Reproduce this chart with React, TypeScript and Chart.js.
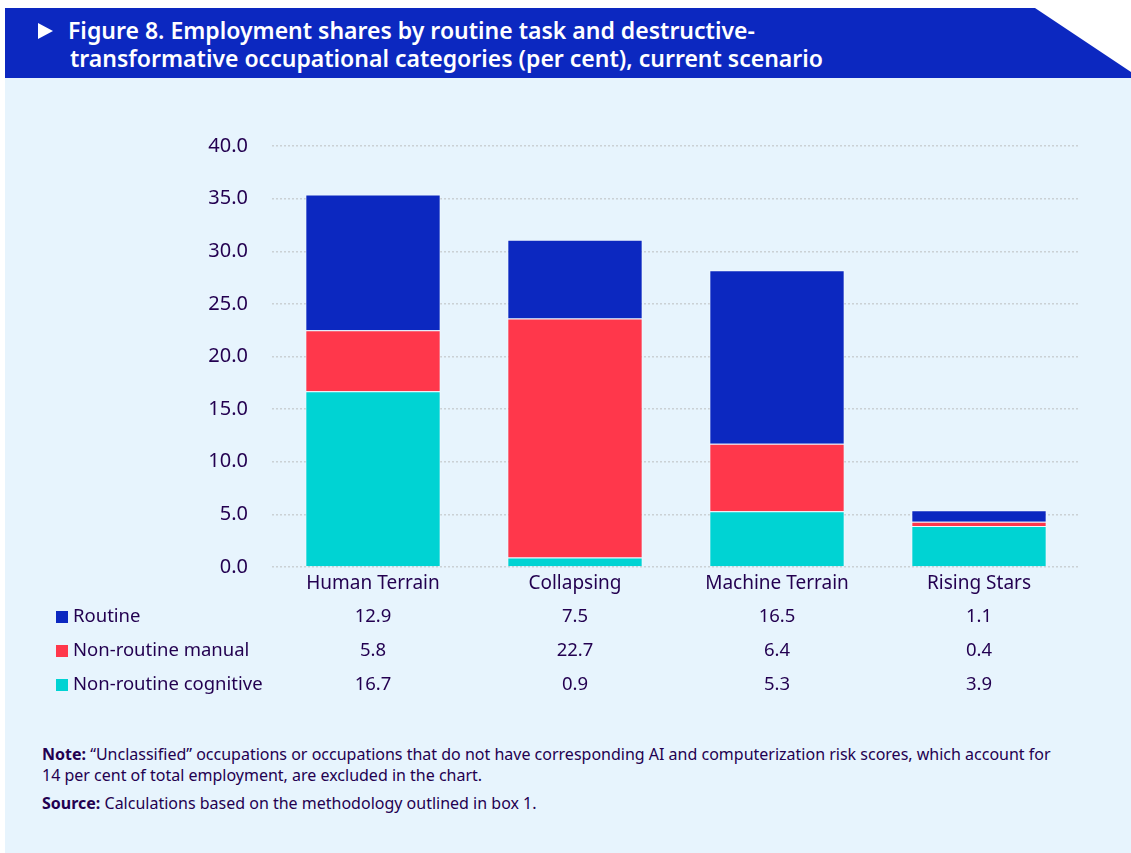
import React, { useEffect, useRef } from "react";
import { Chart, registerables } from "chart.js";

Chart.register(...registerables);

const categories = ["Human Terrain", "Collapsing", "Machine Terrain", "Rising Stars"];
const routine = [12.9, 7.5, 16.5, 1.1];
const nonRoutineManual = [5.8, 22.7, 6.4, 0.4];
const nonRoutineCognitive = [16.7, 0.9, 5.3, 3.9];
const seriesLabels = ["Routine", "Non-routine manual", "Non-routine cognitive"];
const yMin = 0;
const yMax = 40;
const yStep = 5;

const COL_ROUTINE = "#0c28c0";
const COL_MANUAL = "#ff374b";
const COL_COGNITIVE = "#00d3d3";
const TEXT = "#230050";
const FONT = "'Noto Sans', sans-serif";

const tablePlugin = {
  id: "dataTable",
  afterDraw(chart: any) {
    const ctx = chart.ctx;
    const x = chart.scales.x;
    const rows = [
      { label: seriesLabels[0], color: COL_ROUTINE, values: routine },
      { label: seriesLabels[1], color: COL_MANUAL, values: nonRoutineManual },
      { label: seriesLabels[2], color: COL_COGNITIVE, values: nonRoutineCognitive },
    ];
    const rowY = [617, 651, 685];
    ctx.save();
    ctx.font = `18.5px ${FONT}`;
    ctx.textBaseline = "middle";
    rows.forEach((r, i) => {
      const y = rowY[i];
      ctx.fillStyle = r.color;
      ctx.fillRect(56, y - 6, 12, 12);
      ctx.fillStyle = TEXT;
      ctx.textAlign = "left";
      ctx.fillText(r.label, 73, y);
      ctx.textAlign = "center";
      r.values.forEach((v, j) => {
        ctx.fillText(v.toFixed(1), x.getPixelForValue(j), y);
      });
    });
    ctx.restore();
  },
};

function BarChart() {
  const ref = useRef<HTMLCanvasElement | null>(null);
  useEffect(() => {
    if (!ref.current) return;
    const H = 720;
    const chart = new Chart(ref.current, {
      type: "bar",
      data: {
        labels: categories,
        datasets: [
          {
            label: seriesLabels[2],
            data: nonRoutineCognitive,
            backgroundColor: COL_COGNITIVE,
            borderColor: "rgba(255,255,255,0.4)",
            borderWidth: 1,
          },
          {
            label: seriesLabels[1],
            data: nonRoutineManual,
            backgroundColor: COL_MANUAL,
            borderColor: "rgba(255,255,255,0.4)",
            borderWidth: 1,
          },
          {
            label: seriesLabels[0],
            data: routine,
            backgroundColor: COL_ROUTINE,
            borderColor: "rgba(255,255,255,0.4)",
            borderWidth: 1,
          },
        ],
      },
      options: {
        responsive: false,
        animation: false,
        devicePixelRatio: 1,
        layout: { padding: { left: 0, top: 146, right: 51, bottom: H - 567 - 34 } },
        plugins: { legend: { display: false }, tooltip: { enabled: false } },
        datasets: { bar: { categoryPercentage: 1, barPercentage: 0.67 } },
        scales: {
          x: {
            stacked: true,
            grid: { display: false, drawTicks: false },
            border: { display: false },
            ticks: { color: TEXT, font: { family: FONT, size: 19 }, padding: 5, maxRotation: 0 },
            afterFit: (s: any) => {
              s.height = 34;
            },
          },
          y: {
            stacked: true,
            min: yMin,
            max: yMax,
            grid: {
              color: "rgba(180,180,180,0.55)",
              lineWidth: 1.5,
              drawTicks: false,
            },
            border: { display: false, dash: [2, 2] },
            ticks: {
              stepSize: yStep,
              color: TEXT,
              font: { family: FONT, size: 20 },
              padding: 24,
              callback: (v: any) => Number(v).toFixed(1),
            },
            afterFit: (s: any) => {
              s.width = 272;
            },
          },
        },
      },
      plugins: [tablePlugin],
    } as any);
    return () => chart.destroy();
  }, []);
  return (
    <canvas
      ref={ref}
      width={1131}
      height={720}
      style={{ position: "absolute", left: 0, top: 0, width: 1131, height: 720 }}
    />
  );
}

export default function App() {
  return (
    <div style={{ position: "absolute", left: 0, top: 0, width: 1131, height: 853, background: "#ffffff", fontFamily: FONT, overflow: "hidden" }}>
      <div
        style={{
          position: "absolute",
          left: 5,
          top: 78,
          width: 1126,
          height: 775,
          background: "#e7f4fd",
        }}
      />
      <div
        style={{
          position: "absolute",
          left: 5,
          top: 8,
          width: 1126,
          height: 70,
          background: COL_ROUTINE,
          clipPath: "polygon(0 0, 1030px 0, 1126px 64px, 1126px 70px, 0 70px)",
        }}
      >
        <div
          style={{
            position: "absolute",
            left: 33,
            top: 15,
            width: 0,
            height: 0,
            borderLeft: "15px solid #ffffff",
            borderTop: "8px solid transparent",
            borderBottom: "8px solid transparent",
          }}
        />
        <div
          style={{
            position: "absolute",
            left: 63,
            top: 8,
            color: "#ffffff",
            fontSize: 23,
            lineHeight: "28px",
            fontWeight: 600,
            whiteSpace: "nowrap",
          }}
        >
          Figure 8. Employment shares by routine task and destructive-
          <br />
          <span style={{ marginLeft: 2 }}>transformative occupational categories (per cent), current scenario</span>
        </div>
      </div>
      <BarChart />
      <div
        style={{
          position: "absolute",
          left: 42,
          top: 744,
          width: 1080,
          color: TEXT,
          fontSize: 16,
          lineHeight: "21px",
          whiteSpace: "nowrap",
        }}
      >
        <div>
          <b>Note:</b> “Unclassified” occupations or occupations that do not have corresponding AI and computerization risk scores, which account for
          <br />
          14 per cent of total employment, are excluded in the chart.
        </div>
        <div style={{ marginTop: 7 }}>
          <b>Source:</b> Calculations based on the methodology outlined in box 1.
        </div>
      </div>
    </div>
  );
}
